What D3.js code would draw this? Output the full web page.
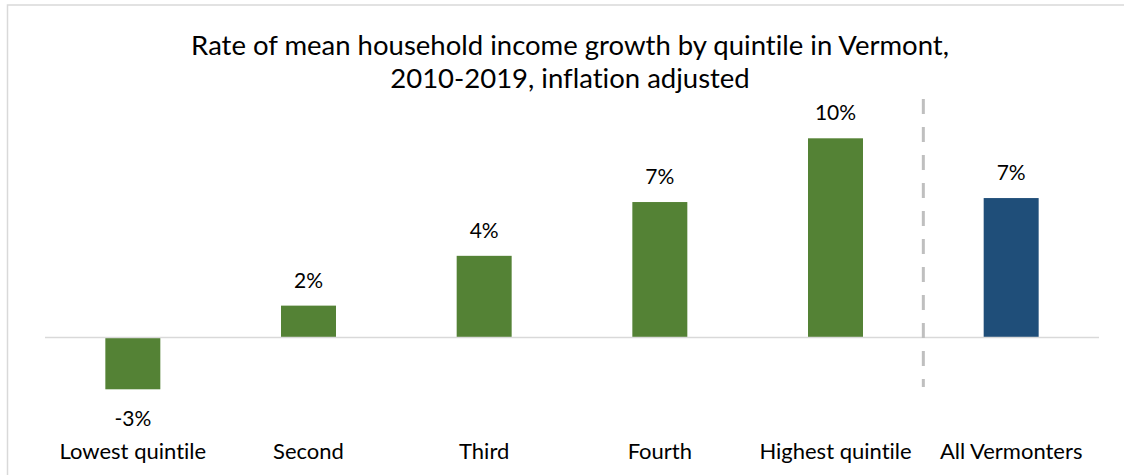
<!DOCTYPE html>
<html>
<head>
<meta charset="utf-8">
<script src="https://cdn.jsdelivr.net/npm/d3@7"></script>
<style>
  html, body { margin: 0; padding: 0; background: #ffffff; }
  svg { display: block; }
  text { font-family: Lato, "Open Sans", sans-serif; fill: #000000; font-variant-ligatures: none; }
</style>
</head>
<body>
<svg id="chart" width="1124" height="475"></svg>
<script>
// Income growth rate by quintile, Vermont 2010-2019 (percent, inflation adjusted)
const categories = ["Lowest quintile", "Second", "Third", "Fourth", "Highest quintile", "All Vermonters"];
const growth = [-2.6, 1.6, 4.1, 6.8, 10.0, 7.0];
const groups = ["quintile", "quintile", "quintile", "quintile", "quintile", "total"];
const titleLines = ["Rate of mean household income growth by quintile in Vermont,", "2010-2019, inflation adjusted"];

const data = categories.map((c, i) => ({ category: c, value: growth[i], group: groups[i] }));

const svg = d3.select("#chart");
const W = 1124, H = 475;

// chart frame (only top and left edges fall inside the canvas)
svg.append("rect")
  .attr("x", 7.5).attr("y", 5)
  .attr("width", W + 20).attr("height", H + 20)
  .attr("fill", "none")
  .attr("stroke", "#d9d9d9")
  .attr("stroke-width", 1.5);

const x = d3.scaleBand()
  .domain(categories)
  .range([45, 1099])
  .paddingInner(0.687)
  .paddingOuter(0.3435);

const y = d3.scaleLinear()
  .domain([0, 10])
  .range([337.5, 138.3]);

const color = d3.scaleOrdinal()
  .domain(["quintile", "total"])
  .range(["#548235", "#1f4e79"]);

// title
svg.append("text")
  .attr("text-anchor", "middle")
  .attr("font-size", 27.5)
  .selectAll("tspan")
  .data(titleLines)
  .join("tspan")
  .attr("x", 570)
  .attr("y", (d, i) => 55 + i * 33)
  .text(d => d);

// bars
svg.append("g")
  .selectAll("rect")
  .data(data)
  .join("rect")
  .attr("x", d => x(d.category))
  .attr("width", x.bandwidth())
  .attr("y", d => y(Math.max(0, d.value)))
  .attr("height", d => Math.abs(y(d.value) - y(0)))
  .attr("fill", d => color(d.group));

// zero baseline
svg.append("line")
  .attr("x1", x.range()[0]).attr("x2", x.range()[1])
  .attr("y1", y(0)).attr("y2", y(0))
  .attr("stroke", "#d9d9d9")
  .attr("stroke-width", 1.5);

// dashed separator between quintiles and the statewide total
const sepX = x("All Vermonters") - (x.step() - x.bandwidth()) / 2;
svg.append("line")
  .attr("x1", sepX).attr("x2", sepX)
  .attr("y1", 99).attr("y2", 387)
  .attr("stroke", "#bfbfbf")
  .attr("stroke-width", 3)
  .attr("stroke-dasharray", "15,13");

// value labels (plain hyphen for negatives)
const locale = d3.formatLocale({ decimal: ".", thousands: ",", grouping: [3], currency: ["$", ""], minus: "-" });
const fmt = locale.format(".0f");
svg.append("g")
  .attr("font-size", 21)
  .attr("text-anchor", "middle")
  .selectAll("text")
  .data(data)
  .join("text")
  .attr("x", d => x(d.category) + x.bandwidth() / 2)
  .attr("y", d => d.value >= 0 ? y(d.value) - 18 : y(d.value) + 37)
  .text(d => fmt(d.value) + "%");

// category axis labels
const xAxis = d3.axisBottom(x).tickSize(0).tickPadding(0);
const axisG = svg.append("g")
  .attr("transform", "translate(0,443)")
  .call(xAxis);
axisG.select(".domain").remove();
axisG.selectAll("text")
  .attr("font-size", 22)
  .attr("font-family", "Lato, 'Open Sans', sans-serif")
  .attr("fill", "#000000")
  .attr("dy", 0)
  .attr("y", 16);
</script>
</body>
</html>
